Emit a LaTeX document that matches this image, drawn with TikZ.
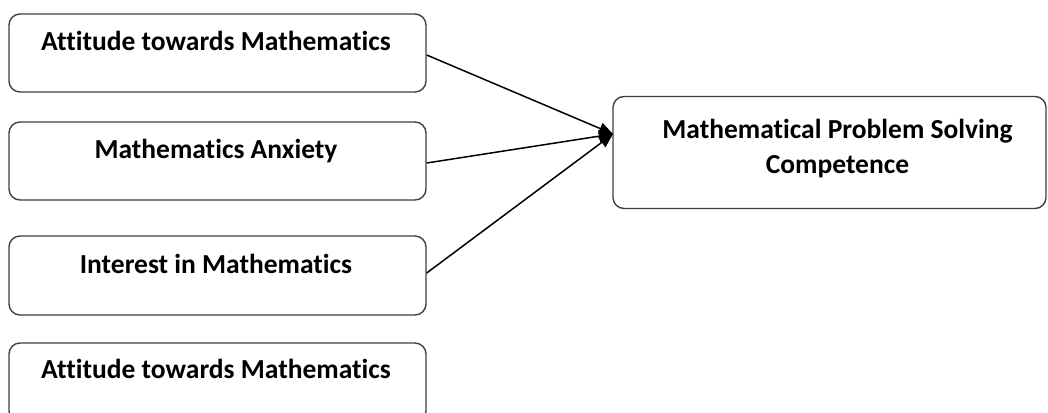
\documentclass[tikz,border=0pt]{standalone}
\usepackage{fontspec}
\setmainfont{Carlito}[Ligatures={NoCommon}]
\usetikzlibrary{arrows.meta}
\definecolor{edge}{HTML}{404040}
\tikzset{
  box/.style={draw=edge, line width=1.4pt, rounded corners=11pt, fill=white, inner sep=0pt},
  lab/.style={font=\bfseries\fontsize{27.5}{32}\selectfont, anchor=base, inner sep=0pt},
  conn/.style={draw=black, line width=1.5pt, -{Triangle[length=14pt,width=12pt]}}
}
\begin{document}
\begin{tikzpicture}[x=1pt,y=-1pt]
\useasboundingbox (0,0) rectangle (1048,412);
\begin{scope}
\clip (0,0) rectangle (1048,412);
\node[box, minimum width=417pt, minimum height=78pt] (a1) at (217.5,53) {};
\node[box, minimum width=417pt, minimum height=78pt] (a2) at (217.5,161) {};
\node[box, minimum width=417pt, minimum height=79pt] (a3) at (217.5,275.5) {};
\node[box, minimum width=417pt, minimum height=79pt] (a4) at (217.5,382.5) {};
\node[box, minimum width=433pt, minimum height=112pt] (m) at (829.5,152.5) {};
\end{scope}
\node[lab] (t1) at (216,50) {Attitude towards Mathematics};
\node[lab] (t2) at (216,158) {Mathematics Anxiety};
\node[lab] (t3) at (216,273) {Interest in Mathematics};
\node[lab] (t4) at (216,378) {Attitude towards Mathematics};
\node[lab] (t5) at (837.5,138) {Mathematical Problem Solving};
\node[lab] (t6) at (837.5,173) {Competence};
\coordinate (tip) at (613,134);
\draw[conn] (a1.east |- 0,55) -- (tip);
\draw[conn] (a2.east |- 0,163) -- (tip);
\draw[conn] (a3.east |- 0,273) -- (tip);
\end{tikzpicture}
\end{document}
